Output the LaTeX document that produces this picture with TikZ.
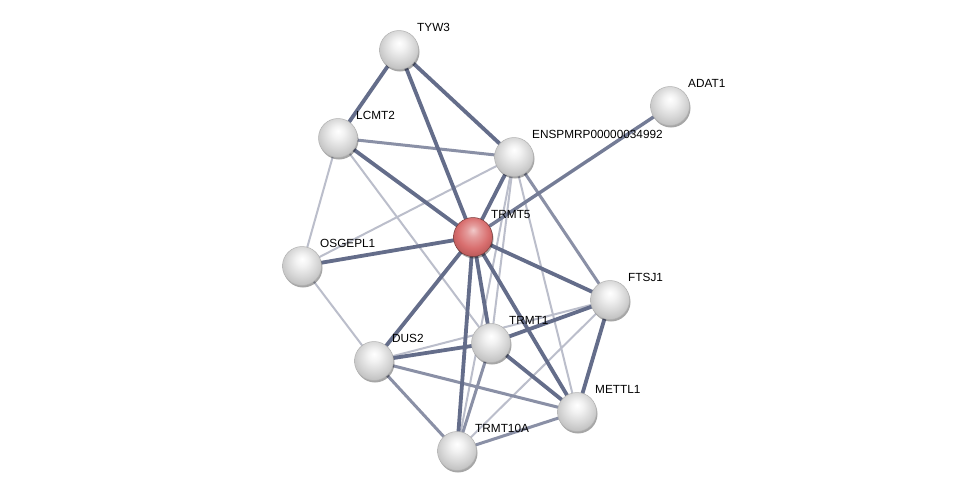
\documentclass[tikz,border=0pt]{standalone}
\usepackage{fontspec}
\setmainfont{Liberation Sans}
\usetikzlibrary{shadows}
\definecolor{edgec}{RGB}{92,101,132}
\definecolor{redbody}{RGB}{214,102,102}
\pgfdeclareradialshading{spheregray}{\pgfpoint{0bp}{9bp}}{%
  color(0bp)=(white); color(8bp)=(gray!10); color(20bp)=(gray!32);
  color(30bp)=(gray!52); color(34bp)=(gray!64); color(50bp)=(gray!64)}
\pgfdeclareradialshading{spherered}{\pgfpoint{0bp}{9bp}}{%
  color(0bp)=(redbody!35!white); color(8bp)=(redbody!65!white); color(20bp)=(redbody!95!white);
  color(30bp)=(redbody!85!black); color(34bp)=(redbody!60!black); color(50bp)=(redbody!60!black)}
\begin{document}
\begin{tikzpicture}[x=1pt,y=-1pt,
  prot/.style={circle, minimum size=39pt, inner sep=0pt, draw=gray!60, line width=0.5pt,
    shading=spheregray,
    drop shadow={shadow xshift=1pt, shadow yshift=-2pt, opacity=0.35, fill=black}},
  protred/.style={prot, draw=redbody!55!black, shading=spherered},
  lbl/.style={anchor=base west, inner sep=0pt, font=\fontsize{11.8}{13}\selectfont, text=black},
  thick e/.style={draw=edgec!95!white, line width=3.8pt},
  mid e/.style={draw=edgec!72!white, line width=3pt},
  thin e/.style={draw=edgec!42!white, line width=2pt},
]
\useasboundingbox[fill=white] (0,0) rectangle (976,496);
% node positions
\coordinate (TYW3) at (399,50);
\coordinate (ADAT1) at (670,106);
\coordinate (LCMT2) at (338,138);
\coordinate (ENSP) at (514,157);
\coordinate (TRMT5) at (473,237);
\coordinate (OSGEPL1) at (302,266);
\coordinate (FTSJ1) at (610,300);
\coordinate (TRMT1) at (491,343);
\coordinate (DUS2) at (374,361);
\coordinate (METTL1) at (577,412);
\coordinate (TRMT10A) at (457,451);
% thin edges
\draw[thin e] (LCMT2) -- (OSGEPL1);
\draw[thin e] (LCMT2) -- (TRMT1);
\draw[thin e] (ENSP) -- (OSGEPL1);
\draw[thin e] (ENSP) -- (METTL1);
\draw[thin e] (ENSP) -- (TRMT1);
\draw[thin e] (ENSP) -- (TRMT10A);
\draw[thin e] (OSGEPL1) -- (DUS2);
\draw[thin e] (DUS2) -- (FTSJ1);
\draw[thin e] (FTSJ1) -- (TRMT10A);
% medium edges
\draw[mid e] (LCMT2) -- (ENSP);
\draw[mid e] (ENSP) -- (FTSJ1);
\draw[mid e] (DUS2) -- (METTL1);
\draw[mid e] (DUS2) -- (TRMT10A);
\draw[mid e] (TRMT1) -- (TRMT10A);
\draw[mid e] (METTL1) -- (TRMT10A);
\draw[mid e, line width=3.4pt, draw=edgec!85!white] (ADAT1) -- (TRMT5);
% thick edges
\draw[thick e] (TYW3) -- (LCMT2);
\draw[thick e] (TYW3) -- (TRMT5);
\draw[thick e] (TYW3) -- (ENSP);
\draw[thick e] (LCMT2) -- (TRMT5);
\draw[thick e] (ENSP) -- (TRMT5);
\draw[thick e] (TRMT5) -- (OSGEPL1);
\draw[thick e] (TRMT5) -- (DUS2);
\draw[thick e] (TRMT5) -- (TRMT1);
\draw[thick e] (TRMT5) -- (TRMT10A);
\draw[thick e] (TRMT5) -- (METTL1);
\draw[thick e] (TRMT5) -- (FTSJ1);
\draw[thick e] (DUS2) -- (TRMT1);
\draw[thick e] (TRMT1) -- (FTSJ1);
\draw[thick e] (TRMT1) -- (METTL1);
\draw[thick e] (FTSJ1) -- (METTL1);
% nodes
\foreach \n in {TYW3,ADAT1,LCMT2,ENSP,OSGEPL1,FTSJ1,TRMT1,DUS2,METTL1,TRMT10A}{
  \node[prot] (\n-ball) at (\n) {};
}
\node[protred] (TRMT5-ball) at (TRMT5) {};
% labels
\node[lbl] (TYW3-l) at ([shift={(18,-19)}]TYW3) {TYW3};
\node[lbl] (ADAT1-l) at ([shift={(18,-19)}]ADAT1) {ADAT1};
\node[lbl] (LCMT2-l) at ([shift={(18,-19)}]LCMT2) {LCMT2};
\node[lbl] (ENSP-l) at ([shift={(18,-19)}]ENSP) {ENSPMRP00000034992};
\node[lbl] (TRMT5-l) at ([shift={(18,-19)}]TRMT5) {TRMT5};
\node[lbl] (OSGEPL1-l) at ([shift={(18,-19)}]OSGEPL1) {OSGEPL1};
\node[lbl] (FTSJ1-l) at ([shift={(18,-19)}]FTSJ1) {FTSJ1};
\node[lbl] (TRMT1-l) at ([shift={(18,-19)}]TRMT1) {TRMT1};
\node[lbl] (DUS2-l) at ([shift={(18,-19)}]DUS2) {DUS2};
\node[lbl] (METTL1-l) at ([shift={(18,-19)}]METTL1) {METTL1};
\node[lbl] (TRMT10A-l) at ([shift={(18,-19)}]TRMT10A) {TRMT10A};
\end{tikzpicture}
\end{document}
